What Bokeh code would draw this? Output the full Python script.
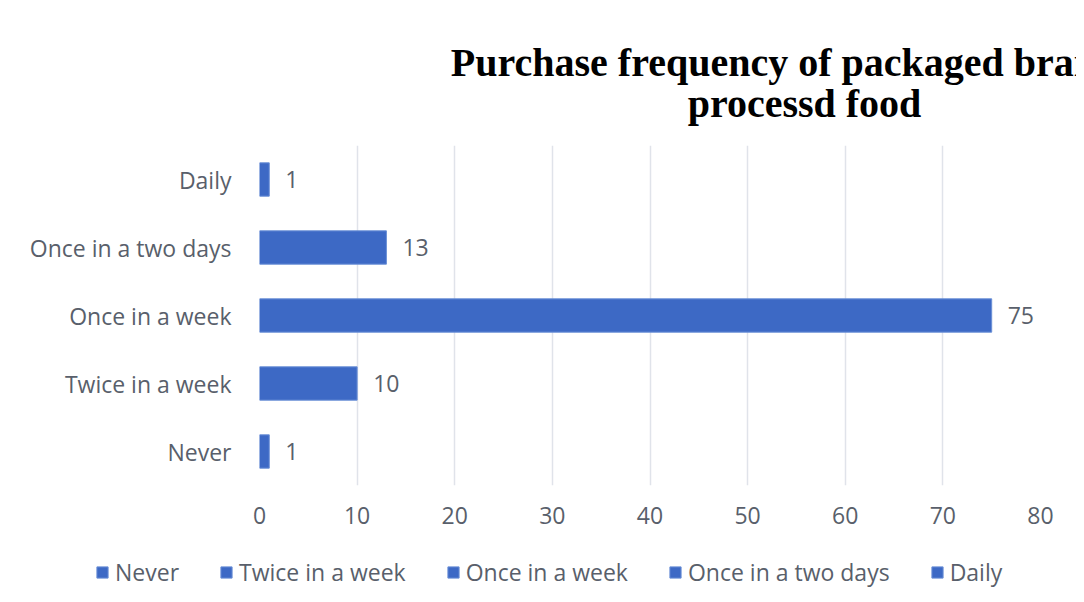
from bokeh.plotting import figure
from bokeh.layouts import column
from bokeh.models import (ColumnDataSource, FactorRange, Range1d, LabelSet, Legend,
                          LegendItem, FixedTicker, Label)
from bokeh.core.properties import value
from bokeh.embed import file_html
from bokeh.resources import INLINE

title_lines = ["Purchase frequency of packaged branded", "processd food"]
categories = ["Never", "Twice in a week", "Once in a week", "Once in a two days", "Daily"]
values = [1, 10, 75, 13, 1]
x_ticks = [0, 10, 20, 30, 40, 50, 60, 70, 80]

TXT = "#595f6b"
BAR = "#3d69c5"
FONT = "Open Sans"
FS = "23px"
W = 1076

src = ColumnDataSource(dict(cat=categories, val=values, lbl=[str(v) for v in values]))

# ---- title block ----
tf = figure(frame_width=W, frame_height=145, output_backend="svg", toolbar_location=None,
            x_axis_location=None, y_axis_location=None,
            x_range=Range1d(0, 1), y_range=Range1d(0, 1), min_border=0)
tf.grid.visible = False
tf.outline_line_color = None
tf.border_fill_color = "white"
for txt, yb in zip(title_lines, [83, 42]):
    tf.add_layout(Label(x=545, y=yb, x_units="screen", y_units="screen", text=txt,
                        text_align="center", text_baseline="alphabetic",
                        text_font="Liberation Serif", text_font_size="40px",
                        text_font_style="bold", text_color="black"))

# ---- main chart ----
p = figure(frame_width=781, frame_height=340, output_backend="svg", toolbar_location=None,
           y_range=FactorRange(factors=categories, range_padding=0),
           x_range=Range1d(0, 80))
p.min_border_left = 259
p.min_border_right = W - 259 - 781
p.min_border_top = 0
p.min_border_bottom = 50
p.outline_line_color = None
p.background_fill_color = "white"
p.border_fill_color = "white"

r = p.hbar(y="cat", right="val", left=0, height=0.49, source=src,
           fill_color=BAR, line_color="#6a8fd6", line_width=1)

labels = LabelSet(x="val", y="cat", text="lbl", source=src, x_offset=16,
                  text_align="left", text_baseline="middle",
                  text_font=value(FONT), text_font_size=FS, text_color=TXT)
p.add_layout(labels)

p.xaxis.ticker = FixedTicker(ticks=x_ticks)
for ax in (p.xaxis[0], p.yaxis[0]):
    ax.axis_line_color = None
    ax.major_tick_line_color = None
    ax.minor_tick_line_color = None
    ax.major_label_text_font = FONT
    ax.major_label_text_font_size = FS
    ax.major_label_text_color = TXT
p.xaxis.major_label_standoff = 15
p.yaxis.major_label_standoff = 22

p.xgrid.grid_line_color = "#e0e3ea"
p.xgrid.grid_line_width = 1.5
p.ygrid.grid_line_color = None

# ---- legend block ----
lf = figure(frame_width=W, frame_height=66, output_backend="svg", toolbar_location=None,
            x_axis_location=None, y_axis_location=None,
            y_range=FactorRange(factors=categories), x_range=Range1d(-20, -10), min_border=0)
lf.grid.visible = False
lf.outline_line_color = None
lf.border_fill_color = "white"
lf.background_fill_color = "white"
lr = lf.hbar(y="cat", right="val", left=0, height=0.49, source=src,
             fill_color=BAR, line_color="#6a8fd6", line_width=1)
items = [LegendItem(label=c, renderers=[lr], index=i) for i, c in enumerate(categories)]
legend = Legend(items=items, orientation="horizontal", location=(95, 13),
                label_text_font=FONT, label_text_font_size=FS,
                label_text_color=TXT, glyph_width=14, glyph_height=14,
                spacing=40, label_standoff=6, border_line_color=None,
                padding=5, margin=0, background_fill_alpha=0)
lf.add_layout(legend)

layout = column(tf, p, lf, spacing=0)
open("out.html", "w").write(file_html(layout, INLINE))
